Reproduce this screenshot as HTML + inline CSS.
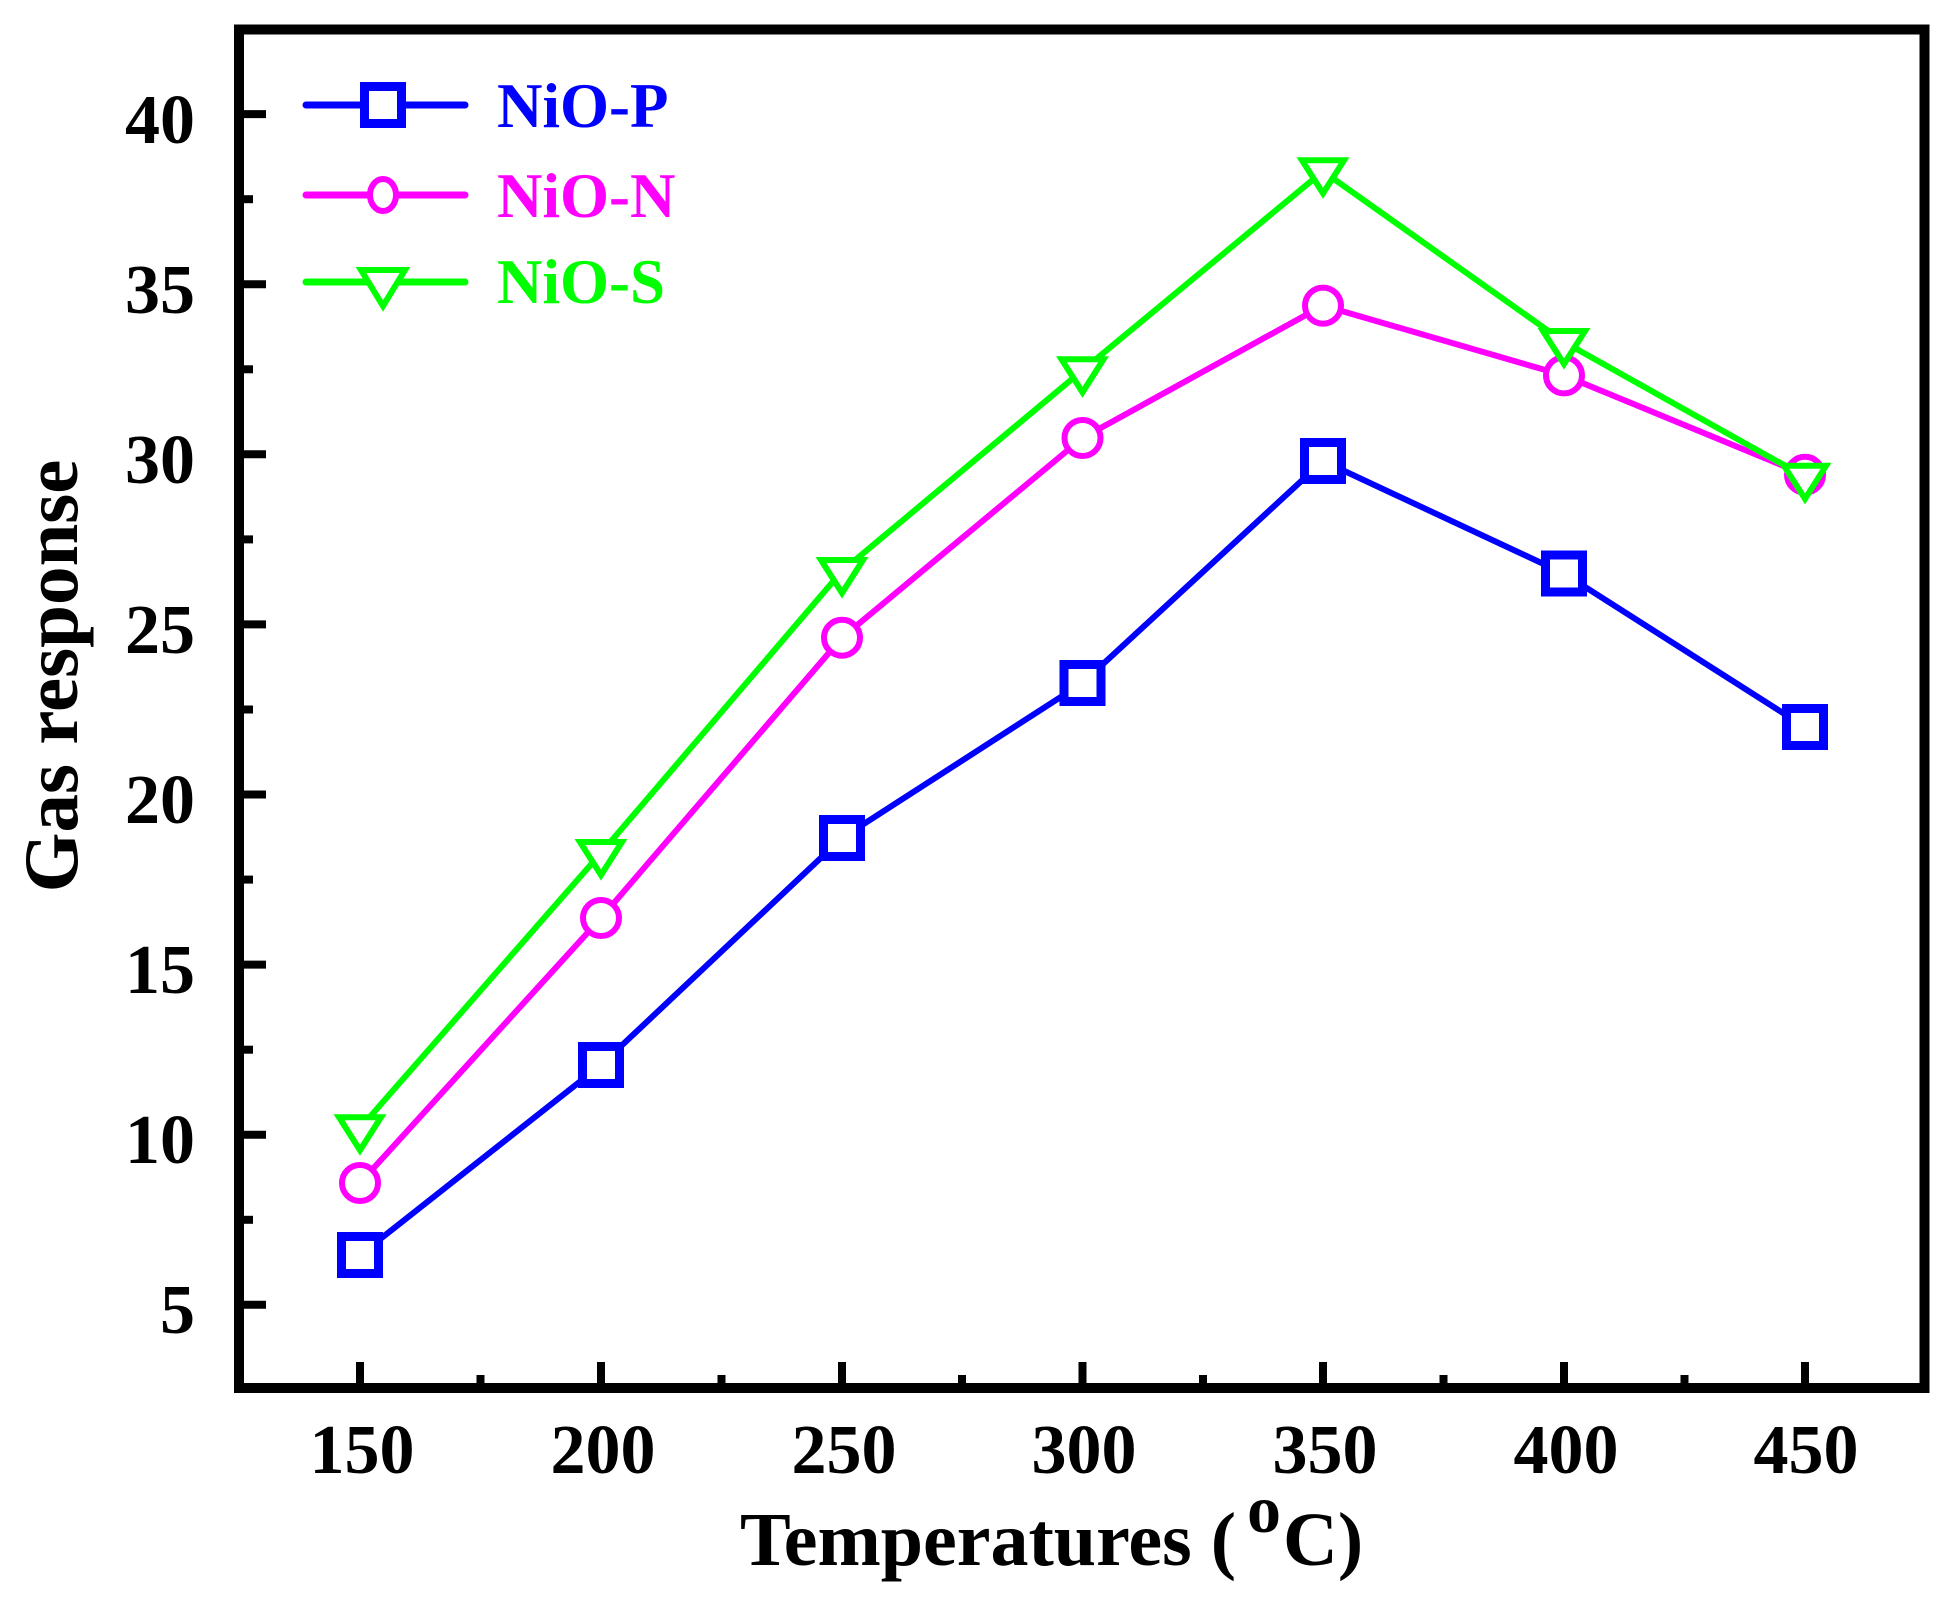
<!DOCTYPE html>
<html>
<head>
<meta charset="utf-8">
<style>
  html, body { margin: 0; padding: 0; background: #ffffff; }
  svg { display: block; }
  text { font-family: "Liberation Serif", "Times New Roman", serif; font-weight: bold; }
</style>
</head>
<body>
<svg width="1960" height="1606" viewBox="0 0 1960 1606" xmlns="http://www.w3.org/2000/svg">
  <rect x="0" y="0" width="1960" height="1606" fill="#ffffff"/>

  <!-- Y ticks (inside, left axis) -->
  <g stroke="#000" stroke-width="8">
    <!-- major: 5..40 -->
    <line x1="239" y1="114.1" x2="266" y2="114.1"/>
    <line x1="239" y1="284.2" x2="266" y2="284.2"/>
    <line x1="239" y1="454.3" x2="266" y2="454.3"/>
    <line x1="239" y1="624.4" x2="266" y2="624.4"/>
    <line x1="239" y1="794.5" x2="266" y2="794.5"/>
    <line x1="239" y1="964.6" x2="266" y2="964.6"/>
    <line x1="239" y1="1134.7" x2="266" y2="1134.7"/>
    <line x1="239" y1="1304.8" x2="266" y2="1304.8"/>
    <!-- minor: 7.5..37.5 -->
    <line x1="239" y1="199.2" x2="253" y2="199.2"/>
    <line x1="239" y1="369.3" x2="253" y2="369.3"/>
    <line x1="239" y1="539.4" x2="253" y2="539.4"/>
    <line x1="239" y1="709.5" x2="253" y2="709.5"/>
    <line x1="239" y1="879.6" x2="253" y2="879.6"/>
    <line x1="239" y1="1049.7" x2="253" y2="1049.7"/>
    <line x1="239" y1="1219.8" x2="253" y2="1219.8"/>
  </g>

  <!-- X ticks (inside, bottom axis) -->
  <g stroke="#000" stroke-width="8">
    <line x1="360" y1="1388" x2="360" y2="1362"/>
    <line x1="601" y1="1388" x2="601" y2="1362"/>
    <line x1="842" y1="1388" x2="842" y2="1362"/>
    <line x1="1082.5" y1="1388" x2="1082.5" y2="1362"/>
    <line x1="1323" y1="1388" x2="1323" y2="1362"/>
    <line x1="1564" y1="1388" x2="1564" y2="1362"/>
    <line x1="1805" y1="1388" x2="1805" y2="1362"/>
    <line x1="480.5" y1="1388" x2="480.5" y2="1375"/>
    <line x1="721.5" y1="1388" x2="721.5" y2="1375"/>
    <line x1="962" y1="1388" x2="962" y2="1375"/>
    <line x1="1203" y1="1388" x2="1203" y2="1375"/>
    <line x1="1443.5" y1="1388" x2="1443.5" y2="1375"/>
    <line x1="1684.5" y1="1388" x2="1684.5" y2="1375"/>
  </g>

  <!-- Frame -->
  <rect x="239" y="29.5" width="1685.5" height="1358.5" fill="none" stroke="#000" stroke-width="10"/>

  <!-- Y tick labels -->
  <g font-size="70" text-anchor="end" fill="#000">
    <text x="195" y="143">40</text>
    <text x="195" y="313">35</text>
    <text x="195" y="483">30</text>
    <text x="195" y="653">25</text>
    <text x="195" y="823">20</text>
    <text x="195" y="993">15</text>
    <text x="195" y="1163">10</text>
    <text x="195" y="1333">5</text>
  </g>

  <!-- X tick labels -->
  <g font-size="70" text-anchor="middle" fill="#000">
    <text x="362" y="1473">150</text>
    <text x="603" y="1473">200</text>
    <text x="844" y="1473">250</text>
    <text x="1084" y="1473">300</text>
    <text x="1325" y="1473">350</text>
    <text x="1566" y="1473">400</text>
    <text x="1806" y="1473">450</text>
  </g>

  <!-- Axis titles -->
  <text x="0" y="0" font-size="77" text-anchor="middle" fill="#000" transform="translate(77,676) rotate(-90)">Gas response</text>
  <text x="740" y="1565" font-size="76" fill="#000">Temperatures (</text>
  <text x="1247" y="1532" font-size="68" fill="#000">o</text>
  <text x="1283" y="1565" font-size="76" fill="#000">C)</text>

  <!-- NiO-P (blue squares) -->
  <polyline fill="none" stroke="#0000ff" stroke-width="6" stroke-linejoin="miter"
    points="360,1255 601,1065 842,838 1082.5,683 1323,461 1564,573.5 1805,727"/>
  <g fill="#ffffff" stroke="#0000ff" stroke-width="9">
    <rect x="341.5" y="1236.5" width="37" height="37"/>
    <rect x="582.5" y="1046.5" width="37" height="37"/>
    <rect x="823.5" y="819.5" width="37" height="37"/>
    <rect x="1064" y="664.5" width="37" height="37"/>
    <rect x="1304.5" y="442.5" width="37" height="37"/>
    <rect x="1545.5" y="555" width="37" height="37"/>
    <rect x="1786.5" y="708.5" width="37" height="37"/>
  </g>

  <!-- NiO-N (magenta circles) -->
  <polyline fill="none" stroke="#ff00ff" stroke-width="6" stroke-linejoin="miter"
    points="360,1183 601,918 842,637.7 1082.5,438 1323,305.6 1564,375.4 1805,474.7"/>
  <g fill="#ffffff" stroke="#ff00ff" stroke-width="6">
    <circle cx="360" cy="1183" r="18"/>
    <circle cx="601" cy="918" r="18"/>
    <circle cx="842" cy="637.7" r="18"/>
    <circle cx="1082.5" cy="438" r="18"/>
    <circle cx="1323" cy="305.6" r="18"/>
    <circle cx="1564" cy="375.4" r="18"/>
    <circle cx="1805" cy="474.7" r="18"/>
  </g>

  <!-- NiO-S (green down triangles, centroid at data point) -->
  <polyline fill="none" stroke="#00ff00" stroke-width="6" stroke-linejoin="miter"
    points="360,1128.2 601,853 842,571 1082.5,370.3 1323,171.3 1564,342 1805,476.8"/>
  <g fill="#ffffff" stroke="#00ff00" stroke-width="6" stroke-linejoin="miter">
    <path d="M339,1117.2 L381,1117.2 L360,1150.2 Z"/>
    <path d="M580,842 L622,842 L601,875 Z"/>
    <path d="M821,560 L863,560 L842,593 Z"/>
    <path d="M1061.5,359.3 L1103.5,359.3 L1082.5,392.3 Z"/>
    <path d="M1302,160.3 L1344,160.3 L1323,193.3 Z"/>
    <path d="M1543,331 L1585,331 L1564,364 Z"/>
    <path d="M1784,465.8 L1826,465.8 L1805,498.8 Z"/>
  </g>

  <!-- Legend -->
  <line x1="306" y1="105" x2="465" y2="105" stroke="#0000ff" stroke-width="7" stroke-linecap="round"/>
  <rect x="364.5" y="86.5" width="37" height="37" fill="#ffffff" stroke="#0000ff" stroke-width="9"/>
  <text x="497" y="127" font-size="63" fill="#0000ff">NiO-P</text>

  <line x1="306" y1="195" x2="465" y2="195" stroke="#ff00ff" stroke-width="7" stroke-linecap="round"/>
  <ellipse cx="383" cy="195" rx="13" ry="16" fill="#ffffff" stroke="#ff00ff" stroke-width="6"/>
  <text x="497" y="217" font-size="63" fill="#ff00ff">NiO-N</text>

  <line x1="306" y1="282" x2="465" y2="282" stroke="#00ff00" stroke-width="7" stroke-linecap="round"/>
  <path d="M361,270 L405,270 L383,306 Z" fill="#ffffff" stroke="#00ff00" stroke-width="6" stroke-linejoin="miter"/>
  <text x="497" y="303" font-size="63" fill="#00ff00">NiO-S</text>
</svg>
</body>
</html>
